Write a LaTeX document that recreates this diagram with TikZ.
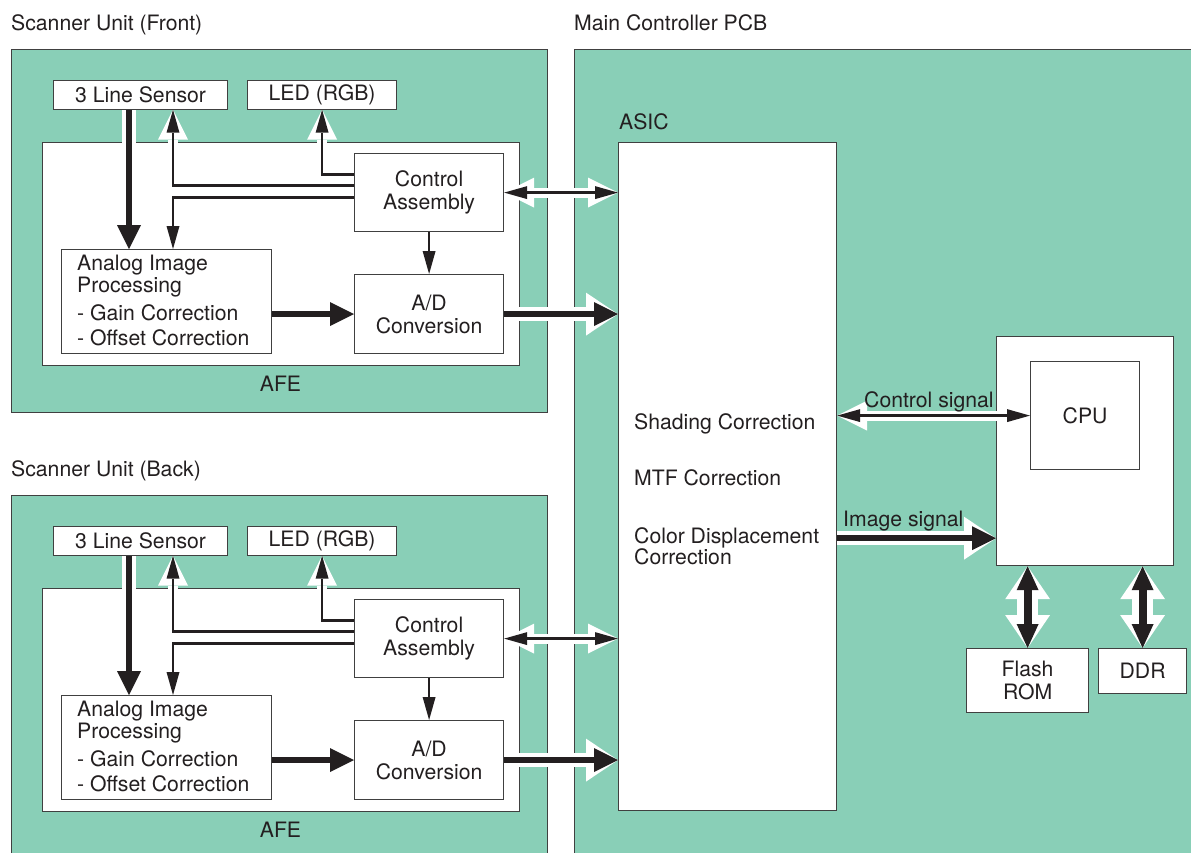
\documentclass[tikz,border=0pt]{standalone}
\usepackage{fontspec}
\setmainfont{TeX Gyre Heros}
\usetikzlibrary{arrows.meta,calc}
\definecolor{pcbgreen}{RGB}{137,207,183}
\definecolor{ink}{RGB}{35,31,32}
\definecolor{edge}{RGB}{64,64,64}
\pgfdeclarelayer{bg}
\pgfdeclarelayer{arr}
\pgfsetlayers{bg,arr,main}
\tikzset{
  txt/.style={font=\fontsize{21.2pt}{23pt}\selectfont, text=ink, inner sep=0pt},
  panel/.style={draw=edge, line width=1pt, fill=pcbgreen, inner sep=0pt, anchor=north west},
  box/.style={draw=edge, line width=1.2pt, fill=white, txt, align=center, anchor=north west},
  arrthin/.style={draw=ink, line width=2.4pt, -{Triangle[length=23pt,width=13pt,line width=0pt]},
    preaction={draw=white, line width=10pt, -{Triangle[length=30pt,width=30pt,line width=0pt]}}},
  arrthinboth/.style={draw=ink, line width=2.4pt, {Triangle[length=23pt,width=13pt,line width=0pt]}-{Triangle[length=23pt,width=13pt,line width=0pt]},
    preaction={draw=white, line width=10pt, {Triangle[length=30pt,width=30pt,line width=0pt]}-{Triangle[length=30pt,width=30pt,line width=0pt]}}},
  arrthick/.style={draw=ink, line width=6.5pt, -{Triangle[length=24pt,width=24pt,line width=0pt]},
    preaction={draw=white, line width=13.5pt, -{Triangle[length=32pt,width=43pt,line width=0pt]}}},
  arrbigboth/.style={draw=ink, line width=8pt, {Triangle[length=24pt,width=22pt,line width=0pt]}-{Triangle[length=24pt,width=22pt,line width=0pt]},
    preaction={draw=white, line width=21pt, {Triangle[length=33pt,width=45pt,line width=0pt]}-{Triangle[length=33pt,width=45pt,line width=0pt]}}},
}
% #1 prefix, #2 vertical offset, #3 title, #4 panel height
\newcommand\scanunit[4]{%
  \node[txt, anchor=base west] (#1title) at (11,30+#2) {#3};
  \begin{pgfonlayer}{bg}
    \node[panel, minimum width=536pt, minimum height=#4] (#1panel) at (11,48.5+#2) {};
    \node[box, minimum width=477pt, minimum height=223pt] (#1afe) at (42,142+#2) {};
  \end{pgfonlayer}
  \node[txt, anchor=base] (#1afelabel) at (280.5,391+#2) {AFE};
  \node[box, minimum width=174pt, minimum height=29pt] (#1sensor) at (53,79.5+#2) {3 Line Sensor};
  \node[box, minimum width=149pt, minimum height=29pt] (#1led) at (247,79.5+#2) {LED (RGB)};
  \node[box, minimum width=149pt, minimum height=78pt] (#1ctrl) at (354,153+#2) {Control\\Assembly};
  \node[box, minimum width=210pt, minimum height=104pt] (#1analog) at (61,249+#2) {};
  \node[txt, anchor=north west, align=left, font=\fontsize{21.2pt}{22pt}\selectfont] (#1analogtext) at (77,255+#2)
    {Analog Image\\Processing\\[6pt]- Gain Correction\\[3pt]- Offset Correction};
  \node[box, minimum width=149pt, minimum height=79pt] (#1ad) at (354,274+#2) {A/D\\Conversion};
  \coordinate (#1xa) at (129,#2);
  \coordinate (#1xb) at (173,#2);
  \begin{pgfonlayer}{arr}
    \draw[arrthick] (#1sensor.south -| #1xa) -- (#1analog.north -| #1xa);
    \draw[arrthin] ($(#1ctrl.west)+(0,-7)$) -| (#1sensor.south -| #1xb);
    \draw[arrthin] ($(#1ctrl.west)+(0,-18)$) -| (#1led.south);
    \draw[arrthin] ($(#1ctrl.west)+(0,5)$) -| (#1analog.north -| #1xb);
    \draw[arrthin] (#1ctrl.south) -- (#1ad.north);
    \draw[arrthick] (#1analog.east |- #1ad.west) -- (#1ad.west);
    \draw[arrthick] (#1ad.east) -- (#1ad.east -| asic.west);
    \draw[arrthinboth] (#1ctrl.east) -- (#1ctrl.east -| asic.west);
  \end{pgfonlayer}
}
\begin{document}
\begin{tikzpicture}[x=1pt,y=-1pt]
\useasboundingbox (0,0) rectangle (1191,852);
\begin{pgfonlayer}{bg}
  \fill[white] (0,0) rectangle (1191,852);
  \node[panel, minimum width=660pt, minimum height=851.5pt] (pcb) at (574,48.5) {};
  \node[box, minimum width=177pt, minimum height=229pt] (cpubase) at (996,336) {};
\end{pgfonlayer}
\node[txt, anchor=base west] (pcbtitle) at (574,30) {Main Controller PCB};
\node[txt, anchor=base west] (asiclabel) at (619,129.5) {ASIC};
\node[box, minimum width=218pt, minimum height=668pt] (asic) at (618,142) {};
\node[txt, anchor=base west] (shading) at (634,429) {Shading Correction};
\node[txt, anchor=base west] (mtf) at (634,485) {MTF Correction};
\node[txt, anchor=north west, align=left, font=\fontsize{21.2pt}{21.6pt}\selectfont] (colordisp) at (634,527) {Color Displacement\\Correction};
\node[box, minimum width=109pt, minimum height=108pt] (cpu) at (1030,361) {CPU};
\node[box, minimum width=122pt, minimum height=64pt] (flash) at (966,648) {Flash\\ROM};
\node[box, minimum width=88pt, minimum height=45pt] (ddr) at (1098,648) {DDR};
\node[txt, anchor=base west] (ctrllabel) at (864,407) {Control signal};
\node[txt, anchor=base west] (imglabel) at (843,526) {Image signal};
\coordinate (imgy) at ($(cpubase.south west)+(0,-28)$);
\begin{pgfonlayer}{arr}
  \draw[arrthinboth] (asic.east |- cpu.west) -- (cpu.west);
  \draw[arrthick] (asic.east |- imgy) -- (imgy);
  \draw[arrbigboth] (flash.north) -- (flash.north |- cpubase.south);
  \draw[arrbigboth] (ddr.north) -- (ddr.north |- cpubase.south);
\end{pgfonlayer}
\scanunit{f}{0}{Scanner Unit (Front)}{363.5pt}
\scanunit{b}{446}{Scanner Unit (Back)}{400pt}
\end{tikzpicture}
\end{document}
